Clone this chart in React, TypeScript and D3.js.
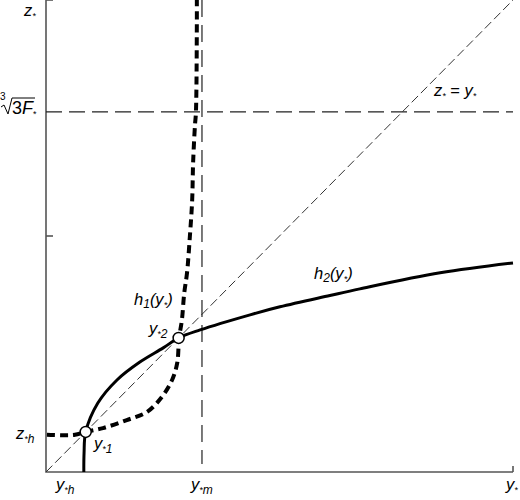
import React from 'react';
import * as d3 from 'd3';

// h1(y*) — thick dashed curve
const h1X = [0.02, 0.35, 0.62, 0.85, 1.22, 1.73, 2.16, 2.48, 2.7, 2.81, 2.85, 2.91, 2.96, 3.02, 3.08, 3.13, 3.15, 3.19, 3.21, 3.23, 3.23];
const h1Y = [0.79, 0.78, 0.79, 0.85, 0.93, 1.1, 1.27, 1.59, 1.95, 2.31, 2.84, 3.22, 3.79, 4.22, 4.98, 5.76, 6.55, 7.35, 7.61, 9.5, 10];

// h2(y*) — solid curve
const h2X = [0.81, 0.815, 0.85, 1.11, 1.52, 2.01, 2.51, 2.84, 3.3, 4.37, 5.01, 6.08, 6.72, 8.44, 10];
const h2Y = [0, 0.4, 0.85, 1.46, 1.95, 2.33, 2.63, 2.84, 3.01, 3.33, 3.5, 3.74, 3.88, 4.22, 4.43];

// equilibrium points y*1, y*2
const eqX = [0.85, 2.84];
const eqY = [0.85, 2.84];

const yStarM = 3.34;
const cubeRoot3F = 7.63;
const yTicks = [5, 10];
const xTicks = [10];

const W = 520;
const H = 500;
const x = d3.scaleLinear().domain([0, 10]).range([46, 513]);
const y = d3.scaleLinear().domain([0, 10]).range([472, 0]);

const line = d3
    .line<[number, number]>()
    .x((d) => x(d[0]))
    .y((d) => y(d[1]))
    .curve(d3.curveCatmullRom.alpha(0.5));

const font = "'Liberation Sans', Arial, sans-serif";
const FS = 16.5;

// label with an italic main letter and small "*" + subscript
const Lbl = ({ px, py, main, sub }: { px: number; py: number; main: string; sub?: string }) => (
    <text x={px} y={py} fontFamily={font} fontStyle="italic" fontSize={FS} fill="#000">
        {main}
        <tspan fontSize={9} dy={3}>*</tspan>
        {sub ? <tspan fontSize={12} dy={1}>{sub}</tspan> : null}
    </text>
);

export default function App() {
    const h1 = h1X.map((v, i) => [v, h1Y[i]] as [number, number]);
    const h2 = h2X.map((v, i) => [v, h2Y[i]] as [number, number]);

    return (
        <svg width={W} height={H} style={{ position: 'absolute', left: 0, top: 0, background: '#fff' }}>
            {/* axes */}
            <g stroke="#555" strokeWidth={1.6} fill="none">
                <path d={`M${x(0)},${y(10)}V${y(0)}H${x(10)}`} />
                {yTicks.map((t) => (
                    <line key={t} x1={x(0)} x2={x(0) + 7} y1={y(t)} y2={y(t)} />
                ))}
                {xTicks.map((t) => (
                    <line key={t} x1={x(t)} x2={x(t)} y1={y(0)} y2={y(0) - 6} />
                ))}
            </g>

            {/* z* = y* diagonal */}
            <line x1={x(0)} y1={y(0)} x2={x(10)} y2={y(10)} stroke="#333" strokeWidth={1} strokeDasharray="9,4" />
            {/* cube root of 3F* */}
            <line x1={x(0)} y1={y(cubeRoot3F)} x2={x(10)} y2={y(cubeRoot3F)} stroke="#222" strokeWidth={1.2} strokeDasharray="16,7" />
            {/* y*m */}
            <line x1={x(yStarM)} y1={0} x2={x(yStarM)} y2={y(0) - 8} stroke="#222" strokeWidth={1.2} strokeDasharray="17,8" />

            <path d={line(h2) ?? ''} fill="none" stroke="#000" strokeWidth={3} />
            <path d={line(h1) ?? ''} fill="none" stroke="#000" strokeWidth={4} strokeDasharray="8,5" />

            {eqX.map((v, i) => (
                <circle key={i} cx={x(v)} cy={y(eqY[i])} r={5.5} fill="#fff" stroke="#000" strokeWidth={1.5} />
            ))}

            {/* labels */}
            <Lbl px={24} py={16} main="z" />
            <g>
                <text x={0} y={100} fontFamily={font} fontSize={10} fill="#000">3</text>
                <path d="M1,107 L4,105 L8,114 L12,98 H35" fill="none" stroke="#000" strokeWidth={1} />
                <text x={12} y={114} fontFamily={font} fontSize={18} fill="#000">
                    3<tspan fontStyle="italic">F</tspan>
                    <tspan fontSize={9} dy={3}>*</tspan>
                </text>
            </g>
            <Lbl px={16} py={439} main="z" sub="h" />
            <Lbl px={56} py={490} main="y" sub="h" />
            <Lbl px={191} py={490} main="y" sub="m" />
            <Lbl px={506} py={490} main="y" />
            <Lbl px={94} py={449} main="y" sub="1" />
            <Lbl px={149} py={334} main="y" sub="2" />
            <text x={134} y={305} fontFamily={font} fontStyle="italic" fontSize={FS}>
                h<tspan fontSize={12} dy={3}>1</tspan>
                <tspan dy={-3}>(y</tspan>
                <tspan fontSize={9} dy={3}>*</tspan>
                <tspan dy={-3}>)</tspan>
            </text>
            <text x={314} y={279} fontFamily={font} fontStyle="italic" fontSize={FS}>
                h<tspan fontSize={12} dy={3}>2</tspan>
                <tspan dy={-3}>(y</tspan>
                <tspan fontSize={9} dy={3}>*</tspan>
                <tspan dy={-3}>)</tspan>
            </text>
            <text x={434} y={96} fontFamily={font} fontStyle="italic" fontSize={FS}>
                z<tspan fontSize={9} dy={3}>*</tspan>
                <tspan dy={-3} fontStyle="normal"> = </tspan>y
                <tspan fontSize={9} dy={3}>*</tspan>
            </text>
        </svg>
    );
}
